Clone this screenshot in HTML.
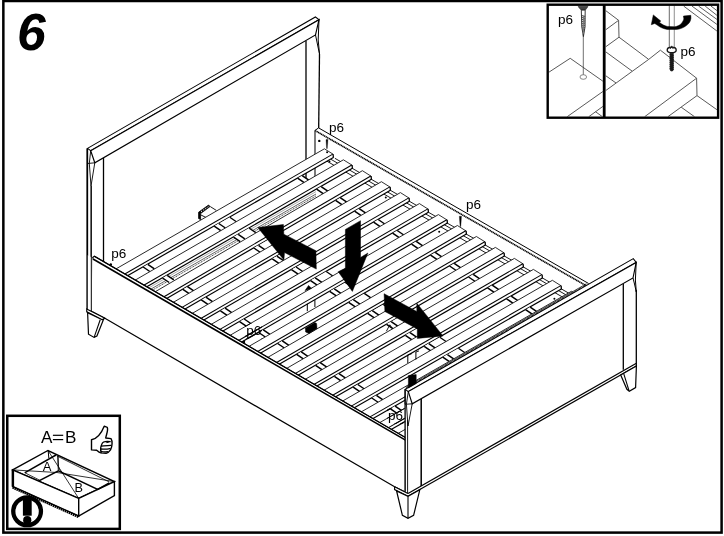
<!DOCTYPE html>
<html><head><meta charset="utf-8"><title>Step 6</title>
<style>
html,body{margin:0;padding:0;background:#fff;}
body{width:724px;height:536px;overflow:hidden;font-family:"Liberation Sans",sans-serif;}
svg{display:block;will-change:transform;}
svg text{font-family:"Liberation Sans",sans-serif;fill:#000;}
</style></head><body>
<svg width="724" height="536" viewBox="0 0 724 536" stroke-linejoin="miter">
<rect x="0" y="0" width="724" height="536" fill="#fff"/>
<polyline points="87.5,148.4 87.5,309.0" fill="none" stroke="#000" stroke-width="1.3" />
<polyline points="91.0,186.0 91.0,309.0" fill="none" stroke="#000" stroke-width="0.9" />
<polyline points="103.5,158.0 103.5,262.0" fill="none" stroke="#000" stroke-width="1.3" />
<polyline points="306.0,41.0 306.0,182.0" fill="none" stroke="#000" stroke-width="1.3" />
<polyline points="319.5,54.0 318.7,128.0" fill="none" stroke="#000" stroke-width="1.3" />
<polygon points="87.5,148.4 315.4,17.0 319.0,19.7 90.7,150.7" fill="#fff" stroke="#000" stroke-width="1.05" />
<polygon points="90.7,150.7 319.0,19.7 315.5,34.9 94.8,162.8" fill="#fff" stroke="#000" stroke-width="1.15" />
<polyline points="87.5,148.4 87.5,163.5 94.8,162.8" fill="none" stroke="#000" stroke-width="0.9" />
<polyline points="90.7,150.7 89.3,163.4 91.0,186.0 94.8,162.8" fill="none" stroke="#000" stroke-width="0.9" />
<polyline points="315.5,34.9 317.6,45.0 319.5,54.0" fill="none" stroke="#000" stroke-width="1.0" />
<polyline points="319.0,19.7 318.2,40.0 319.5,54.0" fill="none" stroke="#000" stroke-width="1.0" />
<polygon points="198.6,212.2 208.6,205.0 210.0,206.6 200.6,213.6 200.6,219.6 198.6,218.6" fill="#000" stroke="#000" stroke-width="0.8" />
<polyline points="201.0,211.7 208.4,206.6" fill="none" stroke="#fff" stroke-width="1.0" stroke-dasharray="1.3 1.3"/>
<polyline points="210.3,206.6 216.3,210.4" fill="none" stroke="#000" stroke-width="0.9" />
<polyline points="200.6,214.8 206.2,217.6" fill="none" stroke="#000" stroke-width="0.9" />
<polyline points="318.6,127.9 588.6,283.5" fill="none" stroke="#000" stroke-width="1.0" />
<polyline points="315.0,130.5 586.1,285.7" fill="none" stroke="#000" stroke-width="1.6" stroke-dasharray="1.3 0.45"/>
<polyline points="315.0,130.4 318.6,127.9" fill="none" stroke="#000" stroke-width="1.0" />
<polyline points="315.0,130.2 315.0,176.5" fill="none" stroke="#333" stroke-width="1.3" />
<polyline points="334.9,158.3 631.9,329.6" fill="none" stroke="#000" stroke-width="0.9" />
<polyline points="330.4,159.0 627.4,330.3" fill="none" stroke="#000" stroke-width="0.9" />
<polyline points="325.4,160.3 622.4,331.6" fill="none" stroke="#000" stroke-width="0.9" />
<polygon points="110.8,271.9 324.4,148.8 332.8,154.1 333.4,157.4 119.2,280.5" fill="#fff" stroke="none" stroke-width="1.3" />
<polyline points="110.8,271.9 324.4,148.8" fill="none" stroke="#111" stroke-width="0.9" />
<polyline points="324.4,148.8 333.1,154.2" fill="none" stroke="#1a1a1a" stroke-width="0.9" />
<polyline points="119.2,277.2 332.8,154.1" fill="none" stroke="#000" stroke-width="1.05" />
<polyline points="119.2,280.5 333.4,157.4" fill="none" stroke="#000" stroke-width="1.2" />
<polyline points="333.1,154.1 333.4,157.7" fill="none" stroke="#000" stroke-width="1.3" />
<polygon points="214.2,226.2 229.8,217.2 236.4,221.7 220.8,230.7" fill="#fff" stroke="none" stroke-width="1.3" />
<polyline points="229.8,217.2 236.4,221.7" fill="none" stroke="#000" stroke-width="1.3" />
<polygon points="143.2,267.0 147.8,264.3 154.4,268.8 149.8,271.5" fill="#fff" stroke="none" stroke-width="1.3" />
<polyline points="143.2,267.0 149.8,271.5" fill="none" stroke="#000" stroke-width="1.5" />
<polyline points="147.8,264.3 154.4,268.8" fill="none" stroke="#000" stroke-width="1.5" />
<polygon points="214.2,226.2 218.8,223.5 225.4,228.0 220.8,230.7" fill="#fff" stroke="none" stroke-width="1.3" />
<polyline points="214.2,226.2 220.8,230.7" fill="none" stroke="#000" stroke-width="1.5" />
<polyline points="218.8,223.5 225.4,228.0" fill="none" stroke="#000" stroke-width="1.5" />
<polygon points="297.6,178.2 302.2,175.6 308.8,180.1 304.2,182.7" fill="#fff" stroke="none" stroke-width="1.3" />
<polyline points="297.6,178.2 304.2,182.7" fill="none" stroke="#000" stroke-width="1.5" />
<polyline points="302.2,175.6 308.8,180.1" fill="none" stroke="#000" stroke-width="1.5" />
<polygon points="130.2,283.0 343.4,159.8 351.8,165.0 352.4,168.3 138.6,291.5" fill="#fff" stroke="none" stroke-width="1.3" />
<polyline points="130.2,283.0 343.4,159.8" fill="none" stroke="#111" stroke-width="0.9" />
<polyline points="343.4,159.8 352.1,165.2" fill="none" stroke="#1a1a1a" stroke-width="0.9" />
<polyline points="138.6,288.2 351.8,165.0" fill="none" stroke="#000" stroke-width="1.05" />
<polyline points="138.6,291.5 352.4,168.3" fill="none" stroke="#000" stroke-width="1.2" />
<polyline points="352.1,165.0 352.4,168.6" fill="none" stroke="#000" stroke-width="1.3" />
<polyline points="138.6,293.8 316.0,191.6" fill="none" stroke="#555" stroke-width="0.5" />
<polyline points="138.6,296.2 316.0,194.0" fill="none" stroke="#222" stroke-width="0.7" />
<polyline points="138.6,298.1 316.0,195.9" fill="none" stroke="#222" stroke-width="0.9" stroke-dasharray="1.1 0.7"/>
<polygon points="233.6,237.1 249.2,228.1 255.8,232.6 240.2,241.6" fill="#fff" stroke="none" stroke-width="1.3" />
<polyline points="249.2,228.1 255.8,232.6" fill="none" stroke="#000" stroke-width="1.3" />
<polygon points="162.6,278.0 167.2,275.3 173.8,279.8 169.2,282.5" fill="#fff" stroke="none" stroke-width="1.3" />
<polyline points="162.6,278.0 169.2,282.5" fill="none" stroke="#000" stroke-width="1.5" />
<polyline points="167.2,275.3 173.8,279.8" fill="none" stroke="#000" stroke-width="1.5" />
<polygon points="233.6,237.1 238.2,234.4 244.8,238.9 240.2,241.6" fill="#fff" stroke="none" stroke-width="1.3" />
<polyline points="233.6,237.1 240.2,241.6" fill="none" stroke="#000" stroke-width="1.5" />
<polyline points="238.2,234.4 244.8,238.9" fill="none" stroke="#000" stroke-width="1.5" />
<polygon points="316.6,189.2 321.2,186.6 327.8,191.1 323.2,193.7" fill="#fff" stroke="none" stroke-width="1.3" />
<polyline points="316.6,189.2 323.2,193.7" fill="none" stroke="#000" stroke-width="1.5" />
<polyline points="321.2,186.6 327.8,191.1" fill="none" stroke="#000" stroke-width="1.5" />
<polygon points="150.5,294.5 362.4,170.7 370.8,176.0 371.4,179.3 158.9,303.0" fill="#fff" stroke="none" stroke-width="1.3" />
<polyline points="150.5,294.5 362.4,170.7" fill="none" stroke="#111" stroke-width="0.9" />
<polyline points="362.4,170.7 371.1,176.2" fill="none" stroke="#1a1a1a" stroke-width="0.9" />
<polyline points="158.9,299.7 370.8,176.0" fill="none" stroke="#000" stroke-width="1.05" />
<polyline points="158.9,303.0 371.4,179.3" fill="none" stroke="#000" stroke-width="1.2" />
<polyline points="371.1,176.0 371.4,179.6" fill="none" stroke="#000" stroke-width="1.3" />
<polygon points="253.9,248.0 269.5,238.9 276.1,243.4 260.5,252.5" fill="#fff" stroke="none" stroke-width="1.3" />
<polyline points="269.5,238.9 276.1,243.4" fill="none" stroke="#000" stroke-width="1.3" />
<polygon points="182.9,289.3 187.5,286.7 194.1,291.2 189.5,293.8" fill="#fff" stroke="none" stroke-width="1.3" />
<polyline points="182.9,289.3 189.5,293.8" fill="none" stroke="#000" stroke-width="1.5" />
<polyline points="187.5,286.7 194.1,291.2" fill="none" stroke="#000" stroke-width="1.5" />
<polygon points="253.9,248.0 258.5,245.3 265.1,249.8 260.5,252.5" fill="#fff" stroke="none" stroke-width="1.3" />
<polyline points="253.9,248.0 260.5,252.5" fill="none" stroke="#000" stroke-width="1.5" />
<polyline points="258.5,245.3 265.1,249.8" fill="none" stroke="#000" stroke-width="1.5" />
<polygon points="335.6,200.4 340.2,197.7 346.8,202.2 342.2,204.9" fill="#fff" stroke="none" stroke-width="1.3" />
<polyline points="335.6,200.4 342.2,204.9" fill="none" stroke="#000" stroke-width="1.5" />
<polyline points="340.2,197.7 346.8,202.2" fill="none" stroke="#000" stroke-width="1.5" />
<polygon points="168.9,304.9 381.4,181.7 389.8,186.9 390.4,190.2 177.3,313.4" fill="#fff" stroke="none" stroke-width="1.3" />
<polyline points="168.9,304.9 381.4,181.7" fill="none" stroke="#111" stroke-width="0.9" />
<polyline points="381.4,181.7 390.1,187.1" fill="none" stroke="#1a1a1a" stroke-width="0.9" />
<polyline points="177.3,310.1 389.8,186.9" fill="none" stroke="#000" stroke-width="1.05" />
<polyline points="177.3,313.4 390.4,190.2" fill="none" stroke="#000" stroke-width="1.2" />
<polyline points="390.1,186.9 390.4,190.5" fill="none" stroke="#000" stroke-width="1.3" />
<polygon points="272.3,258.8 287.9,249.8 294.5,254.3 278.9,263.3" fill="#fff" stroke="none" stroke-width="1.3" />
<polyline points="287.9,249.8 294.5,254.3" fill="none" stroke="#000" stroke-width="1.3" />
<polygon points="201.3,299.9 205.9,297.2 212.5,301.7 207.9,304.4" fill="#fff" stroke="none" stroke-width="1.3" />
<polyline points="201.3,299.9 207.9,304.4" fill="none" stroke="#000" stroke-width="1.5" />
<polyline points="205.9,297.2 212.5,301.7" fill="none" stroke="#000" stroke-width="1.5" />
<polygon points="272.3,258.8 276.9,256.2 283.5,260.7 278.9,263.3" fill="#fff" stroke="none" stroke-width="1.3" />
<polyline points="272.3,258.8 278.9,263.3" fill="none" stroke="#000" stroke-width="1.5" />
<polyline points="276.9,256.2 283.5,260.7" fill="none" stroke="#000" stroke-width="1.5" />
<polygon points="354.6,211.2 359.2,208.6 365.8,213.1 361.2,215.7" fill="#fff" stroke="none" stroke-width="1.3" />
<polyline points="354.6,211.2 361.2,215.7" fill="none" stroke="#000" stroke-width="1.5" />
<polyline points="359.2,208.6 365.8,213.1" fill="none" stroke="#000" stroke-width="1.5" />
<polygon points="188.1,315.8 400.4,192.6 408.8,197.9 409.4,201.2 196.5,324.3" fill="#fff" stroke="none" stroke-width="1.3" />
<polyline points="188.1,315.8 400.4,192.6" fill="none" stroke="#111" stroke-width="0.9" />
<polyline points="400.4,192.6 409.1,198.1" fill="none" stroke="#1a1a1a" stroke-width="0.9" />
<polyline points="196.5,321.0 408.8,197.9" fill="none" stroke="#000" stroke-width="1.05" />
<polyline points="196.5,324.3 409.4,201.2" fill="none" stroke="#000" stroke-width="1.2" />
<polyline points="409.1,197.9 409.4,201.5" fill="none" stroke="#000" stroke-width="1.3" />
<polygon points="291.5,269.7 307.1,260.7 313.7,265.2 298.1,274.2" fill="#fff" stroke="none" stroke-width="1.3" />
<polyline points="307.1,260.7 313.7,265.2" fill="none" stroke="#000" stroke-width="1.3" />
<polygon points="220.5,310.8 225.1,308.1 231.7,312.6 227.1,315.3" fill="#fff" stroke="none" stroke-width="1.3" />
<polyline points="220.5,310.8 227.1,315.3" fill="none" stroke="#000" stroke-width="1.5" />
<polyline points="225.1,308.1 231.7,312.6" fill="none" stroke="#000" stroke-width="1.5" />
<polygon points="291.5,269.7 296.1,267.0 302.7,271.5 298.1,274.2" fill="#fff" stroke="none" stroke-width="1.3" />
<polyline points="291.5,269.7 298.1,274.2" fill="none" stroke="#000" stroke-width="1.5" />
<polyline points="296.1,267.0 302.7,271.5" fill="none" stroke="#000" stroke-width="1.5" />
<polygon points="373.6,222.2 378.2,219.5 384.8,224.0 380.2,226.7" fill="#fff" stroke="none" stroke-width="1.3" />
<polyline points="373.6,222.2 380.2,226.7" fill="none" stroke="#000" stroke-width="1.5" />
<polyline points="378.2,219.5 384.8,224.0" fill="none" stroke="#000" stroke-width="1.5" />
<polygon points="207.2,326.7 419.4,203.6 427.8,208.9 428.4,212.2 215.6,335.2" fill="#fff" stroke="none" stroke-width="1.3" />
<polyline points="207.2,326.7 419.4,203.6" fill="none" stroke="#111" stroke-width="0.9" />
<polyline points="419.4,203.6 428.1,209.1" fill="none" stroke="#1a1a1a" stroke-width="0.9" />
<polyline points="215.6,331.9 427.8,208.9" fill="none" stroke="#000" stroke-width="1.05" />
<polyline points="215.6,335.2 428.4,212.2" fill="none" stroke="#000" stroke-width="1.2" />
<polyline points="428.1,208.9 428.4,212.5" fill="none" stroke="#000" stroke-width="1.3" />
<polygon points="310.6,280.6 326.2,271.5 332.8,276.0 317.2,285.1" fill="#fff" stroke="none" stroke-width="1.3" />
<polyline points="326.2,271.5 332.8,276.0" fill="none" stroke="#000" stroke-width="1.3" />
<polygon points="239.6,321.6 244.2,319.0 250.8,323.5 246.2,326.1" fill="#fff" stroke="none" stroke-width="1.3" />
<polyline points="239.6,321.6 246.2,326.1" fill="none" stroke="#000" stroke-width="1.5" />
<polyline points="244.2,319.0 250.8,323.5" fill="none" stroke="#000" stroke-width="1.5" />
<polygon points="310.6,280.6 315.2,277.9 321.8,282.4 317.2,285.1" fill="#fff" stroke="none" stroke-width="1.3" />
<polyline points="310.6,280.6 317.2,285.1" fill="none" stroke="#000" stroke-width="1.5" />
<polyline points="315.2,277.9 321.8,282.4" fill="none" stroke="#000" stroke-width="1.5" />
<polygon points="392.6,233.2 397.2,230.5 403.8,235.0 399.2,237.7" fill="#fff" stroke="none" stroke-width="1.3" />
<polyline points="392.6,233.2 399.2,237.7" fill="none" stroke="#000" stroke-width="1.5" />
<polyline points="397.2,230.5 403.8,235.0" fill="none" stroke="#000" stroke-width="1.5" />
<polygon points="226.3,337.5 438.4,214.6 446.8,219.8 447.4,223.1 234.7,346.0" fill="#fff" stroke="none" stroke-width="1.3" />
<polyline points="226.3,337.5 438.4,214.6" fill="none" stroke="#111" stroke-width="0.9" />
<polyline points="438.4,214.6 447.1,220.0" fill="none" stroke="#1a1a1a" stroke-width="0.9" />
<polyline points="234.7,342.7 446.8,219.8" fill="none" stroke="#000" stroke-width="1.05" />
<polyline points="234.7,346.0 447.4,223.1" fill="none" stroke="#000" stroke-width="1.2" />
<polyline points="447.1,219.8 447.4,223.4" fill="none" stroke="#000" stroke-width="1.3" />
<polygon points="329.7,291.4 345.3,282.4 351.9,286.9 336.3,295.9" fill="#fff" stroke="none" stroke-width="1.3" />
<polyline points="345.3,282.4 351.9,286.9" fill="none" stroke="#000" stroke-width="1.3" />
<polygon points="258.7,332.5 263.3,329.8 269.9,334.3 265.3,337.0" fill="#fff" stroke="none" stroke-width="1.3" />
<polyline points="258.7,332.5 265.3,337.0" fill="none" stroke="#000" stroke-width="1.5" />
<polyline points="263.3,329.8 269.9,334.3" fill="none" stroke="#000" stroke-width="1.5" />
<polygon points="329.7,291.4 334.3,288.8 340.9,293.3 336.3,295.9" fill="#fff" stroke="none" stroke-width="1.3" />
<polyline points="329.7,291.4 336.3,295.9" fill="none" stroke="#000" stroke-width="1.5" />
<polyline points="334.3,288.8 340.9,293.3" fill="none" stroke="#000" stroke-width="1.5" />
<polygon points="411.6,244.1 416.2,241.4 422.8,245.9 418.2,248.6" fill="#fff" stroke="none" stroke-width="1.3" />
<polyline points="411.6,244.1 418.2,248.6" fill="none" stroke="#000" stroke-width="1.5" />
<polyline points="416.2,241.4 422.8,245.9" fill="none" stroke="#000" stroke-width="1.5" />
<polygon points="245.3,348.5 457.4,225.5 465.8,230.8 466.4,234.1 253.7,357.0" fill="#fff" stroke="none" stroke-width="1.3" />
<polyline points="245.3,348.5 457.4,225.5" fill="none" stroke="#111" stroke-width="0.9" />
<polyline points="457.4,225.5 466.1,231.0" fill="none" stroke="#1a1a1a" stroke-width="0.9" />
<polyline points="253.7,353.7 465.8,230.8" fill="none" stroke="#000" stroke-width="1.05" />
<polyline points="253.7,357.0 466.4,234.1" fill="none" stroke="#000" stroke-width="1.2" />
<polyline points="466.1,230.8 466.4,234.4" fill="none" stroke="#000" stroke-width="1.3" />
<polygon points="348.7,302.4 364.3,293.4 370.9,297.9 355.3,306.9" fill="#fff" stroke="none" stroke-width="1.3" />
<polyline points="364.3,293.4 370.9,297.9" fill="none" stroke="#000" stroke-width="1.3" />
<polygon points="277.7,343.5 282.3,340.8 288.9,345.3 284.3,348.0" fill="#fff" stroke="none" stroke-width="1.3" />
<polyline points="277.7,343.5 284.3,348.0" fill="none" stroke="#000" stroke-width="1.5" />
<polyline points="282.3,340.8 288.9,345.3" fill="none" stroke="#000" stroke-width="1.5" />
<polygon points="348.7,302.4 353.3,299.7 359.9,304.2 355.3,306.9" fill="#fff" stroke="none" stroke-width="1.3" />
<polyline points="348.7,302.4 355.3,306.9" fill="none" stroke="#000" stroke-width="1.5" />
<polyline points="353.3,299.7 359.9,304.2" fill="none" stroke="#000" stroke-width="1.5" />
<polygon points="430.6,255.1 435.2,252.4 441.8,256.9 437.2,259.6" fill="#fff" stroke="none" stroke-width="1.3" />
<polyline points="430.6,255.1 437.2,259.6" fill="none" stroke="#000" stroke-width="1.5" />
<polyline points="435.2,252.4 441.8,256.9" fill="none" stroke="#000" stroke-width="1.5" />
<polygon points="264.3,359.4 476.4,236.5 484.8,241.7 485.4,245.0 272.7,368.0" fill="#fff" stroke="none" stroke-width="1.3" />
<polyline points="264.3,359.4 476.4,236.5" fill="none" stroke="#111" stroke-width="0.9" />
<polyline points="476.4,236.5 485.1,241.9" fill="none" stroke="#1a1a1a" stroke-width="0.9" />
<polyline points="272.7,364.7 484.8,241.7" fill="none" stroke="#000" stroke-width="1.05" />
<polyline points="272.7,368.0 485.4,245.0" fill="none" stroke="#000" stroke-width="1.2" />
<polyline points="485.1,241.7 485.4,245.3" fill="none" stroke="#000" stroke-width="1.3" />
<polygon points="367.7,313.4 383.3,304.4 389.9,308.9 374.3,317.9" fill="#fff" stroke="none" stroke-width="1.3" />
<polyline points="383.3,304.4 389.9,308.9" fill="none" stroke="#000" stroke-width="1.3" />
<polygon points="296.7,354.4 301.3,351.8 307.9,356.3 303.3,358.9" fill="#fff" stroke="none" stroke-width="1.3" />
<polyline points="296.7,354.4 303.3,358.9" fill="none" stroke="#000" stroke-width="1.5" />
<polyline points="301.3,351.8 307.9,356.3" fill="none" stroke="#000" stroke-width="1.5" />
<polygon points="367.7,313.4 372.3,310.7 378.9,315.2 374.3,317.9" fill="#fff" stroke="none" stroke-width="1.3" />
<polyline points="367.7,313.4 374.3,317.9" fill="none" stroke="#000" stroke-width="1.5" />
<polyline points="372.3,310.7 378.9,315.2" fill="none" stroke="#000" stroke-width="1.5" />
<polygon points="449.6,266.0 454.2,263.4 460.8,267.9 456.2,270.5" fill="#fff" stroke="none" stroke-width="1.3" />
<polyline points="449.6,266.0 456.2,270.5" fill="none" stroke="#000" stroke-width="1.5" />
<polyline points="454.2,263.4 460.8,267.9" fill="none" stroke="#000" stroke-width="1.5" />
<polygon points="283.2,370.4 495.4,247.4 503.8,252.7 504.4,256.0 291.6,378.9" fill="#fff" stroke="none" stroke-width="1.3" />
<polyline points="283.2,370.4 495.4,247.4" fill="none" stroke="#111" stroke-width="0.9" />
<polyline points="495.4,247.4 504.1,252.9" fill="none" stroke="#1a1a1a" stroke-width="0.9" />
<polyline points="291.6,375.6 503.8,252.7" fill="none" stroke="#000" stroke-width="1.05" />
<polyline points="291.6,378.9 504.4,256.0" fill="none" stroke="#000" stroke-width="1.2" />
<polyline points="504.1,252.7 504.4,256.3" fill="none" stroke="#000" stroke-width="1.3" />
<polygon points="386.6,324.3 402.2,315.3 408.8,319.8 393.2,328.8" fill="#fff" stroke="none" stroke-width="1.3" />
<polyline points="402.2,315.3 408.8,319.8" fill="none" stroke="#000" stroke-width="1.3" />
<polygon points="315.6,365.4 320.2,362.7 326.8,367.2 322.2,369.9" fill="#fff" stroke="none" stroke-width="1.3" />
<polyline points="315.6,365.4 322.2,369.9" fill="none" stroke="#000" stroke-width="1.5" />
<polyline points="320.2,362.7 326.8,367.2" fill="none" stroke="#000" stroke-width="1.5" />
<polygon points="386.6,324.3 391.2,321.7 397.8,326.2 393.2,328.8" fill="#fff" stroke="none" stroke-width="1.3" />
<polyline points="386.6,324.3 393.2,328.8" fill="none" stroke="#000" stroke-width="1.5" />
<polyline points="391.2,321.7 397.8,326.2" fill="none" stroke="#000" stroke-width="1.5" />
<polygon points="468.6,277.0 473.2,274.3 479.8,278.8 475.2,281.5" fill="#fff" stroke="none" stroke-width="1.3" />
<polyline points="468.6,277.0 475.2,281.5" fill="none" stroke="#000" stroke-width="1.5" />
<polyline points="473.2,274.3 479.8,278.8" fill="none" stroke="#000" stroke-width="1.5" />
<polygon points="302.0,381.2 514.4,258.4 522.8,263.7 523.4,267.0 310.4,389.8" fill="#fff" stroke="none" stroke-width="1.3" />
<polyline points="302.0,381.2 514.4,258.4" fill="none" stroke="#111" stroke-width="0.9" />
<polyline points="514.4,258.4 523.1,263.9" fill="none" stroke="#1a1a1a" stroke-width="0.9" />
<polyline points="310.4,386.5 522.8,263.7" fill="none" stroke="#000" stroke-width="1.05" />
<polyline points="310.4,389.8 523.4,267.0" fill="none" stroke="#000" stroke-width="1.2" />
<polyline points="523.1,263.7 523.4,267.3" fill="none" stroke="#000" stroke-width="1.3" />
<polygon points="405.4,335.3 421.0,326.3 427.6,330.8 412.0,339.8" fill="#fff" stroke="none" stroke-width="1.3" />
<polyline points="421.0,326.3 427.6,330.8" fill="none" stroke="#000" stroke-width="1.3" />
<polygon points="334.4,376.3 339.0,373.6 345.6,378.1 341.0,380.8" fill="#fff" stroke="none" stroke-width="1.3" />
<polyline points="334.4,376.3 341.0,380.8" fill="none" stroke="#000" stroke-width="1.5" />
<polyline points="339.0,373.6 345.6,378.1" fill="none" stroke="#000" stroke-width="1.5" />
<polygon points="405.4,335.3 410.0,332.7 416.6,337.2 412.0,339.8" fill="#fff" stroke="none" stroke-width="1.3" />
<polyline points="405.4,335.3 412.0,339.8" fill="none" stroke="#000" stroke-width="1.5" />
<polyline points="410.0,332.7 416.6,337.2" fill="none" stroke="#000" stroke-width="1.5" />
<polygon points="487.6,287.9 492.2,285.2 498.8,289.7 494.2,292.4" fill="#fff" stroke="none" stroke-width="1.3" />
<polyline points="487.6,287.9 494.2,292.4" fill="none" stroke="#000" stroke-width="1.5" />
<polyline points="492.2,285.2 498.8,289.7" fill="none" stroke="#000" stroke-width="1.5" />
<polygon points="320.8,392.1 533.4,269.4 541.8,274.6 542.4,277.9 329.2,400.6" fill="#fff" stroke="none" stroke-width="1.3" />
<polyline points="320.8,392.1 533.4,269.4" fill="none" stroke="#111" stroke-width="0.9" />
<polyline points="533.4,269.4 542.1,274.8" fill="none" stroke="#1a1a1a" stroke-width="0.9" />
<polyline points="329.2,397.3 541.8,274.6" fill="none" stroke="#000" stroke-width="1.05" />
<polyline points="329.2,400.6 542.4,277.9" fill="none" stroke="#000" stroke-width="1.2" />
<polyline points="542.1,274.6 542.4,278.2" fill="none" stroke="#000" stroke-width="1.3" />
<polygon points="424.2,346.3 439.8,337.3 446.4,341.8 430.8,350.8" fill="#fff" stroke="none" stroke-width="1.3" />
<polyline points="439.8,337.3 446.4,341.8" fill="none" stroke="#000" stroke-width="1.3" />
<polygon points="353.2,387.1 357.8,384.5 364.4,389.0 359.8,391.6" fill="#fff" stroke="none" stroke-width="1.3" />
<polyline points="353.2,387.1 359.8,391.6" fill="none" stroke="#000" stroke-width="1.5" />
<polyline points="357.8,384.5 364.4,389.0" fill="none" stroke="#000" stroke-width="1.5" />
<polygon points="424.2,346.3 428.8,343.6 435.4,348.1 430.8,350.8" fill="#fff" stroke="none" stroke-width="1.3" />
<polyline points="424.2,346.3 430.8,350.8" fill="none" stroke="#000" stroke-width="1.5" />
<polyline points="428.8,343.6 435.4,348.1" fill="none" stroke="#000" stroke-width="1.5" />
<polygon points="506.6,298.8 511.2,296.2 517.8,300.7 513.2,303.3" fill="#fff" stroke="none" stroke-width="1.3" />
<polyline points="506.6,298.8 513.2,303.3" fill="none" stroke="#000" stroke-width="1.5" />
<polyline points="511.2,296.2 517.8,300.7" fill="none" stroke="#000" stroke-width="1.5" />
<polygon points="339.4,402.9 552.4,280.3 560.8,285.6 561.4,288.9 347.8,411.4" fill="#fff" stroke="none" stroke-width="1.3" />
<polyline points="339.4,402.9 552.4,280.3" fill="none" stroke="#111" stroke-width="0.9" />
<polyline points="552.4,280.3 561.1,285.8" fill="none" stroke="#1a1a1a" stroke-width="0.9" />
<polyline points="347.8,408.1 560.8,285.6" fill="none" stroke="#000" stroke-width="1.05" />
<polyline points="347.8,411.4 561.4,288.9" fill="none" stroke="#000" stroke-width="1.2" />
<polyline points="561.1,285.6 561.4,289.2" fill="none" stroke="#000" stroke-width="1.3" />
<polygon points="442.8,357.2 458.4,348.3 465.0,352.8 449.4,361.7" fill="#fff" stroke="none" stroke-width="1.3" />
<polyline points="458.4,348.3 465.0,352.8" fill="none" stroke="#000" stroke-width="1.3" />
<polygon points="371.8,398.0 376.4,395.3 383.0,399.8 378.4,402.5" fill="#fff" stroke="none" stroke-width="1.3" />
<polyline points="371.8,398.0 378.4,402.5" fill="none" stroke="#000" stroke-width="1.5" />
<polyline points="376.4,395.3 383.0,399.8" fill="none" stroke="#000" stroke-width="1.5" />
<polygon points="442.8,357.2 447.4,354.6 454.0,359.1 449.4,361.7" fill="#fff" stroke="none" stroke-width="1.3" />
<polyline points="442.8,357.2 449.4,361.7" fill="none" stroke="#000" stroke-width="1.5" />
<polyline points="447.4,354.6 454.0,359.1" fill="none" stroke="#000" stroke-width="1.5" />
<polygon points="525.6,309.7 530.2,307.1 536.8,311.6 532.2,314.2" fill="#fff" stroke="none" stroke-width="1.3" />
<polyline points="525.6,309.7 532.2,314.2" fill="none" stroke="#000" stroke-width="1.5" />
<polyline points="530.2,307.1 536.8,311.6" fill="none" stroke="#000" stroke-width="1.5" />
<polygon points="358.1,413.7 571.4,291.3 579.8,296.5 580.4,299.8 366.5,422.2" fill="#fff" stroke="none" stroke-width="1.3" />
<polyline points="358.1,413.7 571.4,291.3" fill="none" stroke="#111" stroke-width="0.9" />
<polyline points="571.4,291.3 580.1,296.7" fill="none" stroke="#1a1a1a" stroke-width="0.9" />
<polyline points="366.5,418.9 579.8,296.5" fill="none" stroke="#000" stroke-width="1.05" />
<polyline points="366.5,422.2 580.4,299.8" fill="none" stroke="#000" stroke-width="1.2" />
<polyline points="580.1,296.5 580.4,300.1" fill="none" stroke="#000" stroke-width="1.3" />
<polygon points="461.5,368.2 477.1,359.2 483.7,363.7 468.1,372.7" fill="#fff" stroke="none" stroke-width="1.3" />
<polyline points="477.1,359.2 483.7,363.7" fill="none" stroke="#000" stroke-width="1.3" />
<polygon points="390.5,408.8 395.1,406.1 401.7,410.6 397.1,413.3" fill="#fff" stroke="none" stroke-width="1.3" />
<polyline points="390.5,408.8 397.1,413.3" fill="none" stroke="#000" stroke-width="1.5" />
<polyline points="395.1,406.1 401.7,410.6" fill="none" stroke="#000" stroke-width="1.5" />
<polygon points="461.5,368.2 466.1,365.5 472.7,370.0 468.1,372.7" fill="#fff" stroke="none" stroke-width="1.3" />
<polyline points="461.5,368.2 468.1,372.7" fill="none" stroke="#000" stroke-width="1.5" />
<polyline points="466.1,365.5 472.7,370.0" fill="none" stroke="#000" stroke-width="1.5" />
<polygon points="544.6,320.6 549.2,318.0 555.8,322.5 551.2,325.1" fill="#fff" stroke="none" stroke-width="1.3" />
<polyline points="544.6,320.6 551.2,325.1" fill="none" stroke="#000" stroke-width="1.5" />
<polyline points="549.2,318.0 555.8,322.5" fill="none" stroke="#000" stroke-width="1.5" />
<polygon points="376.6,424.4 590.4,302.2 598.8,307.5 599.4,310.8 385.0,432.9" fill="#fff" stroke="none" stroke-width="1.3" />
<polyline points="376.6,424.4 590.4,302.2" fill="none" stroke="#111" stroke-width="0.9" />
<polyline points="590.4,302.2 599.1,307.7" fill="none" stroke="#1a1a1a" stroke-width="0.9" />
<polyline points="385.0,429.6 598.8,307.5" fill="none" stroke="#000" stroke-width="1.05" />
<polyline points="385.0,432.9 599.4,310.8" fill="none" stroke="#000" stroke-width="1.2" />
<polyline points="599.1,307.5 599.4,311.1" fill="none" stroke="#000" stroke-width="1.3" />
<polygon points="480.0,379.1 495.6,370.2 502.2,374.7 486.6,383.6" fill="#fff" stroke="none" stroke-width="1.3" />
<polyline points="495.6,370.2 502.2,374.7" fill="none" stroke="#000" stroke-width="1.3" />
<polygon points="409.0,419.6 413.6,416.9 420.2,421.4 415.6,424.1" fill="#fff" stroke="none" stroke-width="1.3" />
<polyline points="409.0,419.6 415.6,424.1" fill="none" stroke="#000" stroke-width="1.5" />
<polyline points="413.6,416.9 420.2,421.4" fill="none" stroke="#000" stroke-width="1.5" />
<polygon points="480.0,379.1 484.6,376.5 491.2,381.0 486.6,383.6" fill="#fff" stroke="none" stroke-width="1.3" />
<polyline points="480.0,379.1 486.6,383.6" fill="none" stroke="#000" stroke-width="1.5" />
<polyline points="484.6,376.5 491.2,381.0" fill="none" stroke="#000" stroke-width="1.5" />
<polygon points="563.6,331.5 568.2,328.9 574.8,333.4 570.2,336.0" fill="#fff" stroke="none" stroke-width="1.3" />
<polyline points="563.6,331.5 570.2,336.0" fill="none" stroke="#000" stroke-width="1.5" />
<polyline points="568.2,328.9 574.8,333.4" fill="none" stroke="#000" stroke-width="1.5" />
<polygon points="395.1,435.1 609.4,313.2 617.8,318.5 618.4,321.8 403.5,443.6" fill="#fff" stroke="none" stroke-width="1.3" />
<polyline points="395.1,435.1 609.4,313.2" fill="none" stroke="#111" stroke-width="0.9" />
<polyline points="609.4,313.2 618.1,318.7" fill="none" stroke="#1a1a1a" stroke-width="0.9" />
<polyline points="403.5,440.3 617.8,318.5" fill="none" stroke="#000" stroke-width="1.05" />
<polyline points="403.5,443.6 618.4,321.8" fill="none" stroke="#000" stroke-width="1.2" />
<polyline points="618.1,318.5 618.4,322.1" fill="none" stroke="#000" stroke-width="1.3" />
<polyline points="307.3,303.8 307.3,311.2" fill="none" stroke="#000" stroke-width="1.0" />
<polyline points="314.9,299.8 314.9,307.0" fill="none" stroke="#000" stroke-width="1.0" />
<polyline points="407.8,354.9 407.8,363.0" fill="none" stroke="#000" stroke-width="1.0" />
<polyline points="415.9,352.0 415.9,359.6" fill="none" stroke="#000" stroke-width="1.0" />
<polyline points="407.8,354.9 411.8,353.7" fill="none" stroke="#000" stroke-width="0.9" />
<polyline points="415.9,352.0 419.0,350.9" fill="none" stroke="#000" stroke-width="0.9" />
<polyline points="386.4,331.2 389.8,324.8 392.7,328.9" fill="none" stroke="#000" stroke-width="0.9" />
<polygon points="305.0,290.6 308.6,285.4 311.6,288.4" fill="#000" stroke="#000" stroke-width="0.5" />
<polygon points="305.4,328.0 314.8,322.4 316.6,323.6 317.0,328.6 309.0,333.6 305.6,332.0" fill="#000" stroke="#000" stroke-width="0.5" />
<circle cx="327.1" cy="152.3" r="1.0" fill="#000"/>
<circle cx="329.5" cy="161.6" r="1.0" fill="#000"/>
<circle cx="385.8" cy="197.5" r="1.0" fill="#000"/>
<circle cx="439.2" cy="231.8" r="1.0" fill="#000"/>
<circle cx="554.4" cy="298.7" r="1.0" fill="#000"/>
<polygon points="91.7,258.3 94.4,256.2 405.5,437.6 405.5,492.4 394.6,486.8 104.9,318.3 91.0,311.0" fill="#fff" stroke="#000" stroke-width="1.2" />
<polyline points="94.4,256.2 405.5,437.6" fill="none" stroke="#000" stroke-width="1.05" />
<polyline points="91.7,258.3 405.5,440.1" fill="none" stroke="#000" stroke-width="1.6" />
<polygon points="87.1,255.0 92.5,257.8 92.5,311.5 87.1,309.0" fill="#fff" stroke="none" stroke-width="1.3" />
<polyline points="87.1,148.4 87.1,309.0" fill="none" stroke="#000" stroke-width="1.3" />
<polyline points="91.3,186.0 91.3,311.3" fill="none" stroke="#000" stroke-width="1.0" />
<polygon points="86.7,309.0 104.9,318.3 102.0,319.7 86.7,311.8" fill="#fff" stroke="#000" stroke-width="1.1" />
<polygon points="87.6,312.6 88.5,334.2 94.1,337.4 96.9,336.0 103.6,319.2 102.0,319.7" fill="#fff" stroke="#000" stroke-width="1.2" />
<polyline points="94.1,337.4 100.2,319.7" fill="none" stroke="#000" stroke-width="1.1" />
<polygon points="405.3,389.3 633.3,258.6 636.2,262.4 636.4,366.0 635.6,387.6 629.3,391.3 626.9,389.3 620.7,374.7 419.8,491.8 413.6,515.4 408.0,518.4 402.4,515.4 396.6,491.3 394.6,486.8 405.3,492.0" fill="#fff" stroke="none" stroke-width="1.3" />
<polyline points="406.0,388.2 586.5,284.7" fill="none" stroke="#222" stroke-width="1.5" stroke-dasharray="0.9 0.6"/>
<polyline points="406.0,387.2 586.5,283.7" fill="none" stroke="#111" stroke-width="0.7" />
<polygon points="405.3,389.3 633.3,258.6 636.2,262.4 408.3,391.6" fill="#fff" stroke="#000" stroke-width="1.05" />
<polygon points="408.3,391.6 636.2,262.4 633.0,278.0 412.2,403.8" fill="#fff" stroke="#000" stroke-width="1.15" />
<polyline points="405.1,389.3 405.1,491.8" fill="none" stroke="#000" stroke-width="1.3" />
<polyline points="407.6,420.0 407.6,493.0" fill="none" stroke="#000" stroke-width="0.9" />
<polyline points="421.2,398.9 421.2,486.0" fill="none" stroke="#000" stroke-width="1.5" />
<polyline points="623.3,284.0 623.3,369.8" fill="none" stroke="#000" stroke-width="1.3" />
<polyline points="636.3,290.0 636.3,366.0" fill="none" stroke="#000" stroke-width="1.3" />
<polyline points="633.0,278.0 634.5,284.0 636.3,292.0" fill="none" stroke="#000" stroke-width="1.0" />
<polyline points="636.2,262.4 635.4,280.0 636.3,292.0" fill="none" stroke="#000" stroke-width="1.0" />
<polyline points="405.1,389.3 405.1,404.3 412.2,403.8" fill="none" stroke="#000" stroke-width="0.9" />
<polyline points="408.3,391.6 406.4,404.2 408.0,426.0 412.2,403.8" fill="none" stroke="#000" stroke-width="0.9" />
<polyline points="408.0,493.5 636.4,363.2" fill="none" stroke="#000" stroke-width="1.2" />
<polyline points="408.0,496.3 636.4,366.0" fill="none" stroke="#000" stroke-width="1.2" />
<polyline points="394.6,486.8 408.0,493.5" fill="none" stroke="#000" stroke-width="1.2" />
<polyline points="394.6,486.8 394.6,489.6 408.0,496.3" fill="none" stroke="#000" stroke-width="1.1" />
<polygon points="396.6,491.0 402.4,515.4 408.0,518.4 413.6,515.4 419.8,489.8 408.0,496.3" fill="#fff" stroke="#000" stroke-width="1.2" />
<polyline points="408.0,496.3 408.0,518.4" fill="none" stroke="#000" stroke-width="1.1" />
<polygon points="620.7,374.9 626.9,389.3 629.3,391.3 635.6,387.6 636.4,366.0" fill="#fff" stroke="#000" stroke-width="1.2" />
<polyline points="623.6,373.4 628.9,390.4" fill="none" stroke="#000" stroke-width="1.1" />
<polygon points="408.4,375.6 416.2,374.6 416.2,383.6 408.4,388.0" fill="#000" stroke="#000" stroke-width="0.5" />
<polygon points="257.8,227.5 283.4,224.5 283.8,234.2 315.9,250.7 316.3,269.1 284.5,252.5 283.9,260.0" fill="#000" stroke="#000" stroke-width="0.5" />
<polygon points="360.5,220.7 345.4,229.4 345.4,268.2 338.2,271.7 352.4,291.4 367.9,253.0 360.5,257.5" fill="#000" stroke="#000" stroke-width="0.5" />
<polygon points="384.1,293.7 416.8,311.5 416.8,303.2 443.0,335.9 417.3,338.4 417.3,328.9 384.9,311.5" fill="#000" stroke="#000" stroke-width="0.5" />
<text x="111.2" y="257.9" font-size="13.5" >p6</text>
<text x="329.1" y="131.9" font-size="13.5" >p6</text>
<text x="465.9" y="208.9" font-size="13.5" >p6</text>
<text x="246.2" y="334.5" font-size="13.5" >p6</text>
<text x="388.1" y="419.8" font-size="13.5" >p6</text>
<clipPath id="lb4"><rect x="245" y="323" width="17" height="16"/></clipPath>
<clipPath id="lb5"><rect x="387" y="408" width="17" height="16"/></clipPath>
<g clip-path="url(#lb4)">
<polyline points="110.8,271.9 324.4,148.8" fill="none" stroke="#000" stroke-width="0.9" />
<polyline points="119.2,277.2 332.8,154.1" fill="none" stroke="#000" stroke-width="1.05" />
<polyline points="119.2,280.5 333.4,157.4" fill="none" stroke="#000" stroke-width="1.2" />
<polyline points="130.2,283.0 343.4,159.8" fill="none" stroke="#000" stroke-width="0.9" />
<polyline points="138.6,288.2 351.8,165.0" fill="none" stroke="#000" stroke-width="1.05" />
<polyline points="138.6,291.5 352.4,168.3" fill="none" stroke="#000" stroke-width="1.2" />
<polyline points="150.5,294.5 362.4,170.7" fill="none" stroke="#000" stroke-width="0.9" />
<polyline points="158.9,299.7 370.8,176.0" fill="none" stroke="#000" stroke-width="1.05" />
<polyline points="158.9,303.0 371.4,179.3" fill="none" stroke="#000" stroke-width="1.2" />
<polyline points="168.9,304.9 381.4,181.7" fill="none" stroke="#000" stroke-width="0.9" />
<polyline points="177.3,310.1 389.8,186.9" fill="none" stroke="#000" stroke-width="1.05" />
<polyline points="177.3,313.4 390.4,190.2" fill="none" stroke="#000" stroke-width="1.2" />
<polyline points="188.1,315.8 400.4,192.6" fill="none" stroke="#000" stroke-width="0.9" />
<polyline points="196.5,321.0 408.8,197.9" fill="none" stroke="#000" stroke-width="1.05" />
<polyline points="196.5,324.3 409.4,201.2" fill="none" stroke="#000" stroke-width="1.2" />
<polyline points="207.2,326.7 419.4,203.6" fill="none" stroke="#000" stroke-width="0.9" />
<polyline points="215.6,331.9 427.8,208.9" fill="none" stroke="#000" stroke-width="1.05" />
<polyline points="215.6,335.2 428.4,212.2" fill="none" stroke="#000" stroke-width="1.2" />
<polyline points="226.3,337.5 438.4,214.6" fill="none" stroke="#000" stroke-width="0.9" />
<polyline points="234.7,342.7 446.8,219.8" fill="none" stroke="#000" stroke-width="1.05" />
<polyline points="234.7,346.0 447.4,223.1" fill="none" stroke="#000" stroke-width="1.2" />
<polyline points="245.3,348.5 457.4,225.5" fill="none" stroke="#000" stroke-width="0.9" />
<polyline points="253.7,353.7 465.8,230.8" fill="none" stroke="#000" stroke-width="1.05" />
<polyline points="253.7,357.0 466.4,234.1" fill="none" stroke="#000" stroke-width="1.2" />
<polyline points="264.3,359.4 476.4,236.5" fill="none" stroke="#000" stroke-width="0.9" />
<polyline points="272.7,364.7 484.8,241.7" fill="none" stroke="#000" stroke-width="1.05" />
<polyline points="272.7,368.0 485.4,245.0" fill="none" stroke="#000" stroke-width="1.2" />
<polyline points="283.2,370.4 495.4,247.4" fill="none" stroke="#000" stroke-width="0.9" />
<polyline points="291.6,375.6 503.8,252.7" fill="none" stroke="#000" stroke-width="1.05" />
<polyline points="291.6,378.9 504.4,256.0" fill="none" stroke="#000" stroke-width="1.2" />
<polyline points="302.0,381.2 514.4,258.4" fill="none" stroke="#000" stroke-width="0.9" />
<polyline points="310.4,386.5 522.8,263.7" fill="none" stroke="#000" stroke-width="1.05" />
<polyline points="310.4,389.8 523.4,267.0" fill="none" stroke="#000" stroke-width="1.2" />
<polyline points="320.8,392.1 533.4,269.4" fill="none" stroke="#000" stroke-width="0.9" />
<polyline points="329.2,397.3 541.8,274.6" fill="none" stroke="#000" stroke-width="1.05" />
<polyline points="329.2,400.6 542.4,277.9" fill="none" stroke="#000" stroke-width="1.2" />
<polyline points="339.4,402.9 552.4,280.3" fill="none" stroke="#000" stroke-width="0.9" />
<polyline points="347.8,408.1 560.8,285.6" fill="none" stroke="#000" stroke-width="1.05" />
<polyline points="347.8,411.4 561.4,288.9" fill="none" stroke="#000" stroke-width="1.2" />
<polyline points="358.1,413.7 571.4,291.3" fill="none" stroke="#000" stroke-width="0.9" />
<polyline points="366.5,418.9 579.8,296.5" fill="none" stroke="#000" stroke-width="1.05" />
<polyline points="366.5,422.2 580.4,299.8" fill="none" stroke="#000" stroke-width="1.2" />
<polyline points="376.6,424.4 590.4,302.2" fill="none" stroke="#000" stroke-width="0.9" />
<polyline points="385.0,429.6 598.8,307.5" fill="none" stroke="#000" stroke-width="1.05" />
<polyline points="385.0,432.9 599.4,310.8" fill="none" stroke="#000" stroke-width="1.2" />
<polyline points="395.1,435.1 609.4,313.2" fill="none" stroke="#000" stroke-width="0.9" />
<polyline points="403.5,440.3 617.8,318.5" fill="none" stroke="#000" stroke-width="1.05" />
<polyline points="403.5,443.6 618.4,321.8" fill="none" stroke="#000" stroke-width="1.2" />
</g>
<g clip-path="url(#lb5)">
<polyline points="110.8,271.9 324.4,148.8" fill="none" stroke="#000" stroke-width="0.9" />
<polyline points="119.2,277.2 332.8,154.1" fill="none" stroke="#000" stroke-width="1.05" />
<polyline points="119.2,280.5 333.4,157.4" fill="none" stroke="#000" stroke-width="1.2" />
<polyline points="130.2,283.0 343.4,159.8" fill="none" stroke="#000" stroke-width="0.9" />
<polyline points="138.6,288.2 351.8,165.0" fill="none" stroke="#000" stroke-width="1.05" />
<polyline points="138.6,291.5 352.4,168.3" fill="none" stroke="#000" stroke-width="1.2" />
<polyline points="150.5,294.5 362.4,170.7" fill="none" stroke="#000" stroke-width="0.9" />
<polyline points="158.9,299.7 370.8,176.0" fill="none" stroke="#000" stroke-width="1.05" />
<polyline points="158.9,303.0 371.4,179.3" fill="none" stroke="#000" stroke-width="1.2" />
<polyline points="168.9,304.9 381.4,181.7" fill="none" stroke="#000" stroke-width="0.9" />
<polyline points="177.3,310.1 389.8,186.9" fill="none" stroke="#000" stroke-width="1.05" />
<polyline points="177.3,313.4 390.4,190.2" fill="none" stroke="#000" stroke-width="1.2" />
<polyline points="188.1,315.8 400.4,192.6" fill="none" stroke="#000" stroke-width="0.9" />
<polyline points="196.5,321.0 408.8,197.9" fill="none" stroke="#000" stroke-width="1.05" />
<polyline points="196.5,324.3 409.4,201.2" fill="none" stroke="#000" stroke-width="1.2" />
<polyline points="207.2,326.7 419.4,203.6" fill="none" stroke="#000" stroke-width="0.9" />
<polyline points="215.6,331.9 427.8,208.9" fill="none" stroke="#000" stroke-width="1.05" />
<polyline points="215.6,335.2 428.4,212.2" fill="none" stroke="#000" stroke-width="1.2" />
<polyline points="226.3,337.5 438.4,214.6" fill="none" stroke="#000" stroke-width="0.9" />
<polyline points="234.7,342.7 446.8,219.8" fill="none" stroke="#000" stroke-width="1.05" />
<polyline points="234.7,346.0 447.4,223.1" fill="none" stroke="#000" stroke-width="1.2" />
<polyline points="245.3,348.5 457.4,225.5" fill="none" stroke="#000" stroke-width="0.9" />
<polyline points="253.7,353.7 465.8,230.8" fill="none" stroke="#000" stroke-width="1.05" />
<polyline points="253.7,357.0 466.4,234.1" fill="none" stroke="#000" stroke-width="1.2" />
<polyline points="264.3,359.4 476.4,236.5" fill="none" stroke="#000" stroke-width="0.9" />
<polyline points="272.7,364.7 484.8,241.7" fill="none" stroke="#000" stroke-width="1.05" />
<polyline points="272.7,368.0 485.4,245.0" fill="none" stroke="#000" stroke-width="1.2" />
<polyline points="283.2,370.4 495.4,247.4" fill="none" stroke="#000" stroke-width="0.9" />
<polyline points="291.6,375.6 503.8,252.7" fill="none" stroke="#000" stroke-width="1.05" />
<polyline points="291.6,378.9 504.4,256.0" fill="none" stroke="#000" stroke-width="1.2" />
<polyline points="302.0,381.2 514.4,258.4" fill="none" stroke="#000" stroke-width="0.9" />
<polyline points="310.4,386.5 522.8,263.7" fill="none" stroke="#000" stroke-width="1.05" />
<polyline points="310.4,389.8 523.4,267.0" fill="none" stroke="#000" stroke-width="1.2" />
<polyline points="320.8,392.1 533.4,269.4" fill="none" stroke="#000" stroke-width="0.9" />
<polyline points="329.2,397.3 541.8,274.6" fill="none" stroke="#000" stroke-width="1.05" />
<polyline points="329.2,400.6 542.4,277.9" fill="none" stroke="#000" stroke-width="1.2" />
<polyline points="339.4,402.9 552.4,280.3" fill="none" stroke="#000" stroke-width="0.9" />
<polyline points="347.8,408.1 560.8,285.6" fill="none" stroke="#000" stroke-width="1.05" />
<polyline points="347.8,411.4 561.4,288.9" fill="none" stroke="#000" stroke-width="1.2" />
<polyline points="358.1,413.7 571.4,291.3" fill="none" stroke="#000" stroke-width="0.9" />
<polyline points="366.5,418.9 579.8,296.5" fill="none" stroke="#000" stroke-width="1.05" />
<polyline points="366.5,422.2 580.4,299.8" fill="none" stroke="#000" stroke-width="1.2" />
<polyline points="376.6,424.4 590.4,302.2" fill="none" stroke="#000" stroke-width="0.9" />
<polyline points="385.0,429.6 598.8,307.5" fill="none" stroke="#000" stroke-width="1.05" />
<polyline points="385.0,432.9 599.4,310.8" fill="none" stroke="#000" stroke-width="1.2" />
<polyline points="395.1,435.1 609.4,313.2" fill="none" stroke="#000" stroke-width="0.9" />
<polyline points="403.5,440.3 617.8,318.5" fill="none" stroke="#000" stroke-width="1.05" />
<polyline points="403.5,443.6 618.4,321.8" fill="none" stroke="#000" stroke-width="1.2" />
</g>
<circle cx="110.8" cy="264.5" r="1.2" fill="#000"/>
<circle cx="319.3" cy="140.9" r="1.2" fill="#000"/>
<circle cx="244" cy="342" r="1.2" fill="#000"/>
<polygon points="326.0,139.6 327.9,139.6 327.3,148.6 326.6,148.6" fill="#000" stroke="#000" stroke-width="0.3" />
<polygon points="459.3,216.2 461.5,216.2 460.8,226.5 460.1,226.5" fill="#000" stroke="#000" stroke-width="0.3" />
<rect x="546.5" y="3.7" width="172.7" height="115" fill="#fff" stroke="none"/>
<clipPath id="cl"><rect x="548.7" y="5.6" width="54.4" height="111.2"/></clipPath>
<clipPath id="cr"><rect x="605.4" y="5.6" width="111.6" height="111.2"/></clipPath>
<g clip-path="url(#cl)">
<polyline points="548.6,72.4 570.2,58.3 602.9,81.2" fill="none" stroke="#505050" stroke-width="0.95" />
<polyline points="602.9,91.5 567.2,116.7" fill="none" stroke="#505050" stroke-width="0.95" />
<polyline points="602.9,106.4 588.8,116.7" fill="none" stroke="#505050" stroke-width="0.95" />
<polyline points="595.5,111.7 602.4,116.7" fill="none" stroke="#505050" stroke-width="0.95" />
<polyline points="583.3,34.0 583.3,74.7" fill="none" stroke="#333" stroke-width="0.7" />
<ellipse cx="583.3" cy="77" rx="3.3" ry="2.3" fill="none" stroke="#555" stroke-width="0.7"/>
<polygon points="578.2,6.2 587.9,6.2 587.3,7.6 585.3,10.1 581.2,10.1 578.9,7.6" fill="#444" stroke="#222" stroke-width="0.6" />
<polygon points="581.3,10.1 585.2,10.1 585.0,27.0 583.4,36.6 581.8,27.0" fill="#fff" stroke="#222" stroke-width="0.9" />
<polyline points="581.5,15.5 585.2,16.4" fill="none" stroke="#333" stroke-width="0.9" />
<polyline points="581.5,17.4 585.2,18.3" fill="none" stroke="#333" stroke-width="0.9" />
<polyline points="581.5,19.3 585.2,20.2" fill="none" stroke="#333" stroke-width="0.9" />
<polyline points="581.5,21.2 585.2,22.1" fill="none" stroke="#333" stroke-width="0.9" />
<polyline points="581.5,23.1 585.2,24.0" fill="none" stroke="#333" stroke-width="0.9" />
<polyline points="581.5,25.0 585.2,25.9" fill="none" stroke="#333" stroke-width="0.9" />
<polyline points="581.8,26.9 584.9,27.8" fill="none" stroke="#333" stroke-width="0.9" />
<polyline points="582.1,28.8 584.6,29.7" fill="none" stroke="#333" stroke-width="0.9" />
<polyline points="582.5,30.7 584.2,31.6" fill="none" stroke="#333" stroke-width="0.9" />
<polyline points="583.4,16.0 583.4,33.0" fill="none" stroke="#777" stroke-width="1.0" />
</g>
<text x="558.1" y="23.9" font-size="13.5" >p6</text>
<g clip-path="url(#cr)">
<polyline points="605.7,10.6 618.6,20.3 619.0,37.2 648.7,59.4" fill="none" stroke="#505050" stroke-width="0.95" />
<polyline points="605.7,29.8 618.6,20.3" fill="none" stroke="#505050" stroke-width="0.95" />
<polyline points="605.7,46.8 619.0,37.2" fill="none" stroke="#505050" stroke-width="0.95" />
<polyline points="605.7,51.8 632.1,71.1" fill="none" stroke="#505050" stroke-width="0.95" />
<polyline points="605.7,75.7 616.0,83.0" fill="none" stroke="#505050" stroke-width="0.95" />
<polyline points="605.7,90.6 648.7,59.4 660.4,50.2 696.6,78.2 697.0,95.6 716.9,109.7" fill="none" stroke="#505050" stroke-width="0.95" />
<polyline points="696.6,78.2 644.7,116.7" fill="none" stroke="#505050" stroke-width="0.95" />
<polyline points="697.0,95.6 667.9,116.7" fill="none" stroke="#505050" stroke-width="0.95" />
<polyline points="681.2,107.2 694.5,116.7" fill="none" stroke="#505050" stroke-width="0.95" />
<polyline points="683.7,6.1 716.9,31.0" fill="none" stroke="#333" stroke-width="0.8" />
<polyline points="692.0,6.1 716.9,24.4" fill="none" stroke="#333" stroke-width="0.8" />
<polyline points="698.6,6.1 716.9,19.4" fill="none" stroke="#333" stroke-width="0.8" />
<polyline points="705.2,6.1 716.9,15.3" fill="none" stroke="#333" stroke-width="0.8" />
<polyline points="711.0,6.1 716.9,10.6" fill="none" stroke="#333" stroke-width="0.8" />
<polyline points="669.3,5.0 669.3,47.5" fill="none" stroke="#444" stroke-width="0.8" />
<polyline points="674.3,5.0 674.3,47.5" fill="none" stroke="#999" stroke-width="1.1" />
<ellipse cx="671.7" cy="50.0" rx="4.5" ry="2.7" fill="#fff" stroke="#1a1a1a" stroke-width="1.4"/>
<path d="M670.3,48.9 L671.7,45.9 L673.1,48.9" fill="none" stroke="#222" stroke-width="0.9"/>
<path d="M670.1,53.2 L673.3,53.2 L673.3,69.6 C673.3,71.6 670.1,71.6 670.1,69.6 Z" fill="#222" stroke="#111" stroke-width="0.6"/>
<polyline points="669.5,54.6 673.9,55.4" fill="none" stroke="#111" stroke-width="0.8" />
<polyline points="669.5,56.6 673.9,57.4" fill="none" stroke="#111" stroke-width="0.8" />
<polyline points="669.5,58.6 673.9,59.4" fill="none" stroke="#111" stroke-width="0.8" />
<polyline points="669.5,60.6 673.9,61.4" fill="none" stroke="#111" stroke-width="0.8" />
<polyline points="669.5,62.6 673.9,63.4" fill="none" stroke="#111" stroke-width="0.8" />
<polyline points="669.5,64.6 673.9,65.4" fill="none" stroke="#111" stroke-width="0.8" />
<polyline points="669.5,66.6 673.9,67.4" fill="none" stroke="#111" stroke-width="0.8" />
<polyline points="669.5,68.6 673.9,69.4" fill="none" stroke="#111" stroke-width="0.8" />
<path d="M683.4,16.1 L690.8,15.3 C691.6,20 689.6,23 687.3,24.8 C684,27.6 680,29.3 676.5,29.4 L667.2,29.4 C663,28.7 660,27.2 657.9,25.5 L654.8,23.5 L651.3,24.7 L653.3,14.9 L660.8,21.1 L659.4,22.3 C662,24.5 665,26 667.2,26.4 L674.9,26.8 C677.5,26.3 680,25 681.1,23.8 C683,21.5 683.9,19.5 683.8,18.4 Z" fill="#000" stroke="#000" stroke-width="0.5"/>
</g>
<text x="680.4" y="55.9" font-size="13.5" >p6</text>
<rect x="547.7" y="4.7" width="170.4" height="113" fill="none" stroke="#000" stroke-width="2.4"/>
<line x1="604.2" y1="4" x2="604.2" y2="118" stroke="#000" stroke-width="2.8"/>
<rect x="6" y="414.5" width="115.2" height="115" fill="#fff" stroke="none"/>
<text x="40.9" y="442.6" font-size="17.1" >A</text>
<text x="64.9" y="442.6" font-size="17.1" >B</text>
<polyline points="52.9,435.3 63.2,435.3" fill="none" stroke="#000" stroke-width="1.2" />
<polyline points="52.9,439.6 63.2,439.6" fill="none" stroke="#000" stroke-width="1.2" />
<path d="M91.5,439.8 C97,438.6 101.5,433 104.2,426.2 L107.3,427.4 C108.4,430 106.5,434 105.7,438 L111,438.6 C112.6,441 112.4,446 110.5,449.9 C109,452 107.5,453.2 106.2,453.3 L100.8,452.9 C98.5,452.2 97.5,450.8 96.7,450.2 L91.5,449.9 Z" fill="#fff" stroke="#000" stroke-width="1.4" stroke-linejoin="round"/>
<path d="M110.2,441.6 C106,441 102.5,442.2 101.8,444.2 M110.8,445.3 C107,445.6 103.5,445.6 101.5,446.2 M110,448.6 C106.5,449.2 103,449.2 101.2,448.8 M107.5,451.6 C105,452 102.5,451.8 101.2,451.2 M101.8,444.2 C100.6,446.5 100.4,450.5 101.2,452.6 M107,442.5 L109,441.8" fill="none" stroke="#000" stroke-width="1.25" stroke-linecap="round"/>
<polygon points="12.6,469.9 48.0,450.5 114.4,481.6 78.7,498.4" fill="#fff" stroke="#000" stroke-width="1.4" />
<polygon points="12.6,469.9 78.7,498.4 78.7,516.0 12.6,486.5" fill="#fff" stroke="#000" stroke-width="1.4" />
<polygon points="78.7,498.4 114.4,481.6 114.4,495.6 78.7,516.0" fill="#fff" stroke="#000" stroke-width="1.4" />
<polyline points="25.0,472.6 56.0,455.0" fill="none" stroke="#000" stroke-width="1.5" />
<polyline points="56.7,455.8 109.3,482.0" fill="none" stroke="#000" stroke-width="0.8" />
<polyline points="38.9,480.9 58.4,470.9 97.7,489.4 109.3,482.9" fill="none" stroke="#000" stroke-width="1.5" />
<polyline points="57.9,455.9 58.3,470.4" fill="none" stroke="#000" stroke-width="1.0" />
<polyline points="48.2,451.0 48.8,458.0" fill="none" stroke="#000" stroke-width="1.0" />
<polyline points="24.5,472.6 39.7,480.2" fill="none" stroke="#000" stroke-width="0.8" />
<polyline points="48.0,450.5 78.7,498.4" fill="none" stroke="#000" stroke-width="0.8" />
<polyline points="12.6,469.9 57.0,472.5 114.4,481.6" fill="none" stroke="#000" stroke-width="0.8" />
<path d="M57.9,456 L58.4,466 C59,470 61.5,472.5 64,474" fill="none" stroke="#000" stroke-width="0.8"/>
<polyline points="12.9,469.9 12.9,486.5" fill="none" stroke="#000" stroke-width="2.4" />
<polyline points="12.6,487.4 78.7,516.9" fill="none" stroke="#000" stroke-width="2.6" stroke-dasharray="1.6 0.6"/>
<text x="42.8" y="471.3" font-size="13" >A</text>
<text x="74.5" y="492.3" font-size="12.7" >B</text>
<circle cx="27.1" cy="511.35" r="13.85" fill="#fff" stroke="#000" stroke-width="4.3"/>
<rect x="22.9" y="497.6" width="8.8" height="18.1" fill="#000"/>
<circle cx="27.25" cy="520.2" r="4.1" fill="#000"/>
<rect x="7.25" y="415.8" width="112.55" height="113.1" fill="none" stroke="#000" stroke-width="2.5"/>
<rect x="3.35" y="1.0" width="718.25" height="531.6" fill="none" stroke="#000" stroke-width="2.5"/>
<text x="16.9" y="49.7" font-size="51.8" font-weight="bold" font-style="italic">6</text>
</svg>
</body></html>
